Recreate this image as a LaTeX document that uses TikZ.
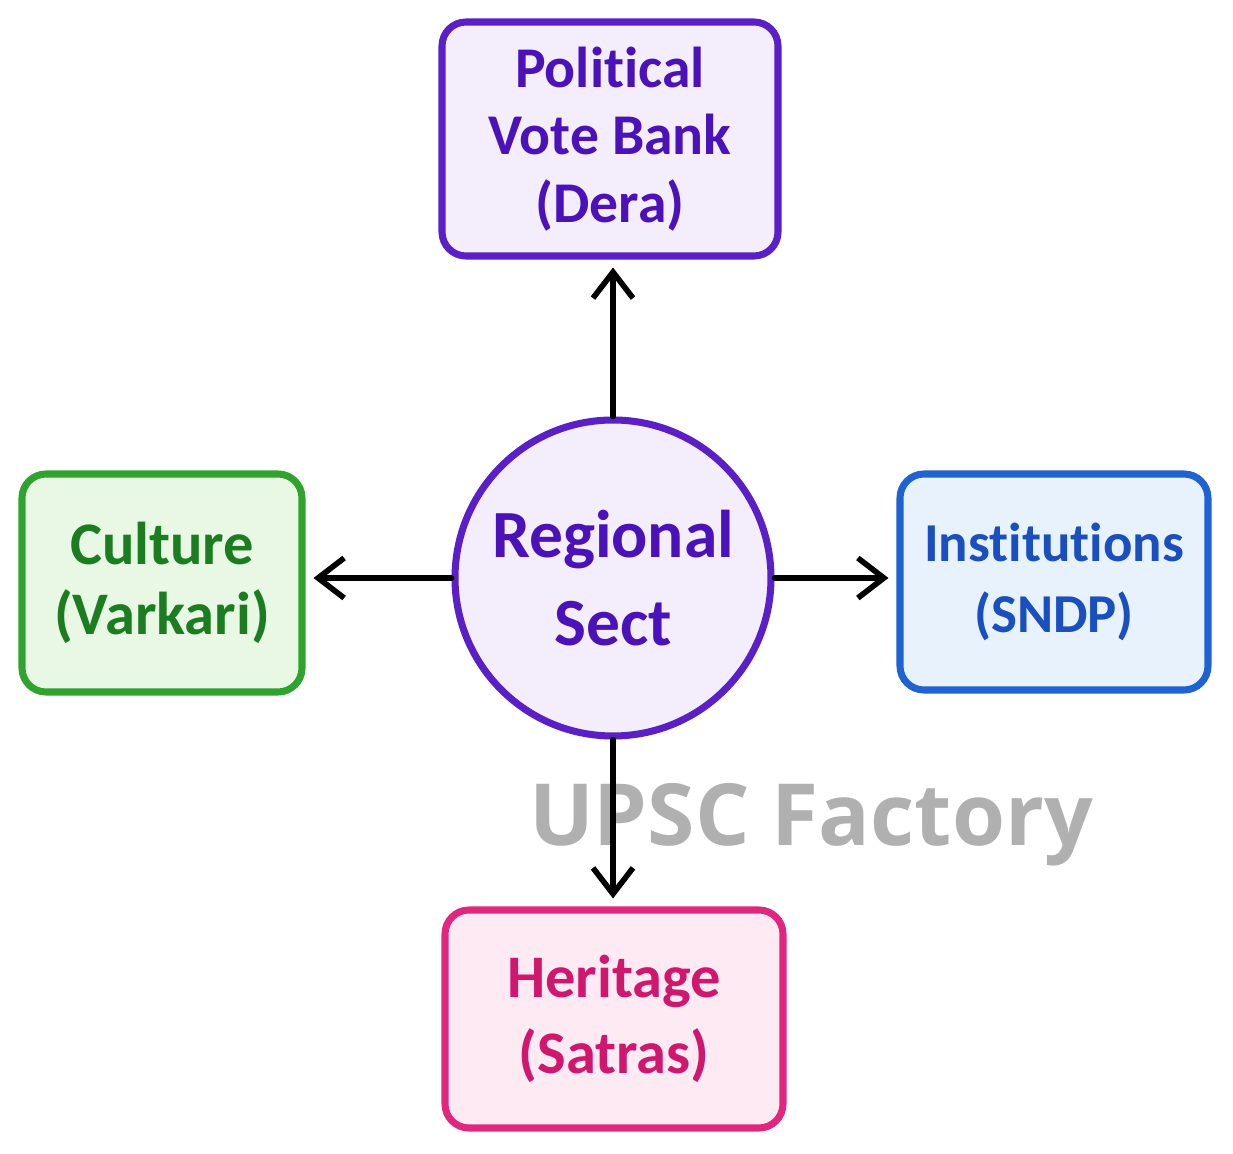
\documentclass[tikz,border=0pt]{standalone}
\usepackage{fontspec}
\setmainfont{Carlito}[Ligatures=NoCommon]
\newfontfamily\markfont{Open Sans}
\usetikzlibrary{arrows.meta}

\definecolor{sectline}{HTML}{5A1FC6}
\definecolor{sectfill}{HTML}{F3EDFC}
\definecolor{secttext}{HTML}{4A12B8}
\definecolor{culline}{HTML}{2EA32E}
\definecolor{culfill}{HTML}{E9F8E5}
\definecolor{cultext}{HTML}{1B7D1F}
\definecolor{instline}{HTML}{1F62D2}
\definecolor{instfill}{HTML}{E7F2FD}
\definecolor{insttext}{HTML}{1A4FBF}
\definecolor{herline}{HTML}{E0267F}
\definecolor{herfill}{HTML}{FDEAF3}
\definecolor{hertext}{HTML}{D0176E}

\begin{document}
\begin{tikzpicture}[
  box/.style={draw, line width=5pt, rounded corners=0.6cm, align=center, inner sep=0pt},
  hub/.style={draw, circle, line width=5pt, align=center, inner sep=0pt},
  link/.style={line width=4pt, line cap=round, -{Straight Barb[length=6.5mm,width=10mm]}, shorten >=0.2cm}
]

\useasboundingbox[fill=white] (0,0) rectangle (30.825, 28.825);

% watermark sits behind the arrows
\node (mark) at (20.275, 7.7) [anchor=base, text=black!31, font=\markfont\bfseries\fontsize{61}{61}\selectfont] {UPSC Factory};

\node (sect) at (15.325, 14.375) [hub, minimum size=7.9cm, draw=sectline, fill=sectfill, text=secttext,
  font=\bfseries\fontsize{48}{62}\selectfont] {Regional\\Sect};

\node (vote) at (15.25, 25.35) [box, minimum width=8.4cm, minimum height=5.85cm, draw=sectline, fill=sectfill, text=secttext,
  font=\bfseries\fontsize{41}{48}\selectfont] {Political\\Vote Bank\\(Dera)};

\node (culture) at (4.05, 14.25) [box, minimum width=7cm, minimum height=5.45cm, draw=culline, fill=culfill, text=cultext,
  font=\bfseries\fontsize{43}{50}\selectfont] {Culture\\(Varkari)};

\node (inst) at (26.35, 14.275) [box, minimum width=7.7cm, minimum height=5.4cm, draw=instline, fill=instfill, text=insttext,
  font=\bfseries\fontsize{39}{51}\selectfont] {Institutions\\(SNDP)};

\node (heritage) at (15.35, 3.35) [box, minimum width=8.45cm, minimum height=5.45cm, draw=herline, fill=herfill, text=hertext,
  font=\bfseries\fontsize{43}{54}\selectfont] {Heritage\\(Satras)};

\draw [link] (sect.north) -- (vote.south -| sect.north);
\draw [link] (sect.west) -- (culture.east |- sect.west);
\draw [link] (sect.east) -- (inst.west |- sect.east);
\draw [link] (sect.south) -- (heritage.north -| sect.south);

\end{tikzpicture}
\end{document}
